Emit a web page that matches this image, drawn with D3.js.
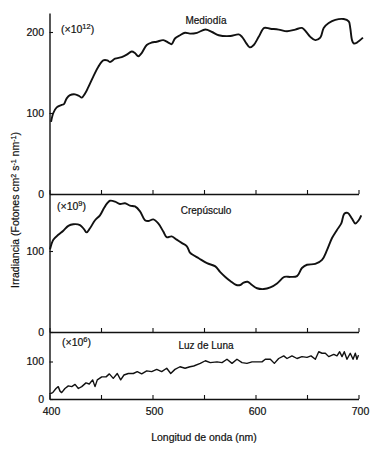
<!DOCTYPE html>
<html>
<head>
<meta charset="utf-8">
<script src="https://cdn.jsdelivr.net/npm/d3@7"></script>
<style>
  html, body { margin: 0; padding: 0; background: #fff; }
  svg { display: block; }
  text { font-family: "Liberation Sans", Arial, Helvetica, sans-serif; fill: #111; stroke: #111; stroke-width: 0.2px; }
</style>
</head>
<body>
<svg id="chart" width="377" height="450"></svg>
<script>
// ---- Data ----
const xTicks = [400, 450, 500, 550, 600, 650, 700];
const xTickLabels = [400, 500, 600, 700];

const middayNm  = [401.5,403.7,407,411.8,414,416.7,419.9,424.8,428.9,431.3,434.5,437.7,442.5,447.4,452.2,456.1,458.7,463.6,470.1,475,479.8,483,486.2,489.5,494.4,499.2,504.1,510.5,515.3,518.6,521.8,526.7,531.6,536.4,543.2,551.3,557.8,564.3,575.5,583.7,586.9,591.1,594.4,598.3,603.1,608.5,614.4,622.5,630.6,638.6,645.1,649.3,653.2,658.1,662.9,666.2,671.1,677.5,685.6,690.5,692,693.7,695.3,698.5,704.3];
const middayVal = [89,100,107,110,111,118,122,123,121,119,124,132,145,157,165,165,163,167,169,172,176,174,170,174,184,187,188,190,187,185,192,196,199,198,199,203,200,196,195,197,194,186,181,184,194,205,204,203,201,203,205,200,194,190,193,205,211,215,216,213,205,190,186,187,193];

const duskNm  = [400.5,403.7,408.5,413.4,418.3,423.1,429.6,433.5,436.1,439.3,444.2,449,452.9,456.1,458.7,463.6,468.4,473.3,478.2,483,487.9,492.7,495.9,500.8,505.6,510.5,513.8,518.6,523.5,528.3,533.2,536.4,538.3,544.9,552.9,561,565.8,570.7,575.5,581.4,585.2,588.5,592.4,596.6,601.5,608,614.4,620.9,628,633.8,640.3,645.1,650,658,664.6,669.4,674.3,679.1,683.3,686.2,689.5,693.7,696.9,700.2,702.7];
const duskVal = [102,114,120,125,131,133,132,127,123,128,138,144,153,159,162,161,158,159,156,155,149,138,137,139,134,124,117,118,114,110,106,98,96,91,85,81,74,68,63,58,58,61,62,58,54,53,55,60,68,68,69,79,83,84,89,101,116,126,134,146,147,140,134,138,144];

const moonNm  = [399.8,403.1,406.3,408.5,410.2,411.8,415,418.3,421.6,424.8,428,431.3,435.4,438.6,441.9,444.2,446.4,450.7,454.9,458.1,461.9,465.8,469.1,472.3,476.5,481.4,485.2,489.5,494.4,499.2,504.1,508.9,513.8,517.7,521.8,526.7,531.6,536.4,540,546.4,551.3,556.1,562.6,567.5,572.3,577.2,582,586.9,591.7,596.6,601.5,606.3,609.5,614.4,618.3,622.5,627.4,630.6,635.4,640.3,645.1,650,653.9,658.1,661.4,664.6,667.8,671.1,676,679.1,681.7,684,686.2,688.8,692,694.7,696.9,698.5,700];
const moonVal = [13,17,28,33,21,17,28,35,33,39,28,33,43,40,51,33,51,59,59,67,55,68,51,64,68,68,73,67,75,73,79,73,82,68,79,86,82,86,88,95,102,97,99,97,106,95,106,97,95,99,99,99,106,106,95,108,115,108,115,108,113,111,115,106,126,122,122,113,119,115,126,113,126,106,122,106,122,106,117];

// ---- Layout ----
const svg = d3.select("#chart");
const x = d3.scaleLinear().domain([400, 700]).range([49.5, 358.5]);

const panels = [
  { name: "Mediodía",    exp: "12", nm: middayNm, val: middayVal, base: 194, top: 13,  perUnit: 0.81,  yTicks: [0, 100, 200], curve: d3.curveCatmullRom, labelX: 61, labelY: 33, nameY: 24 },
  { name: "Crepúsculo",  exp: "9",  nm: duskNm,   val: duskVal,   base: 332, top: 194, perUnit: 0.81,  yTicks: [0, 100],      curve: d3.curveCatmullRom, labelX: 57, labelY: 210, nameY: 214 },
  { name: "Luz de Luna", exp: "6",  nm: moonNm,   val: moonVal,   base: 399, top: 332, perUnit: 0.375, yTicks: [0, 100],      curve: d3.curveLinear,     labelX: 62, labelY: 346, nameY: 349 }
];

panels.forEach((p, i) => {
  const maxV = (p.base - p.top) / p.perUnit;
  const y = d3.scaleLinear().domain([0, maxV]).range([p.base, p.top]);
  const g = svg.append("g");

  // x axis (ticks pointing up)
  const xa = d3.axisBottom(x).tickValues(xTicks).tickSizeInner(-4).tickSizeOuter(0).tickPadding(9)
    .tickFormat(d => (i === 2 && xTickLabels.includes(d)) ? d : "");
  const gx = g.append("g").attr("transform", `translate(0,${p.base})`).call(xa);
  gx.select(".domain").attr("stroke", "#111").attr("stroke-width", 1.4);
  gx.selectAll(".tick line").attr("stroke", "#111").attr("stroke-width", 1.1);
  gx.selectAll(".tick text").attr("font-size", 10.5).attr("fill", "#111")
    .attr("font-family", '"Liberation Sans", Arial, sans-serif').attr("dx", 1.5);

  // y axis (ticks pointing right)
  const ya = d3.axisLeft(y).tickValues(p.yTicks).tickSizeInner(-3.5).tickSizeOuter(0).tickPadding(5.5);
  const gy = g.append("g").attr("transform", `translate(${x(400)},0)`).call(ya);
  gy.select(".domain").attr("stroke", "#111").attr("stroke-width", 1.4);
  gy.selectAll(".tick line").attr("stroke", "#111").attr("stroke-width", 1.1);
  gy.selectAll(".tick text").attr("font-size", 10.5).attr("fill", "#111")
    .attr("font-family", '"Liberation Sans", Arial, sans-serif');

  // curve
  const pts = p.nm.map((n, k) => [n, p.val[k]]);
  const line = d3.line().x(d => x(d[0])).y(d => y(d[1])).curve(p.curve);
  g.append("path").datum(pts).attr("d", line)
    .attr("fill", "none").attr("stroke", "#111")
    .attr("stroke-width", i === 2 ? 1.4 : 1.9).attr("stroke-linejoin", "round");

  // multiplier label
  const t = g.append("text").attr("x", p.labelX).attr("y", p.labelY).attr("font-size", 10.5);
  t.append("tspan").text("(×10");
  t.append("tspan").attr("dy", -4).attr("font-size", 7.5).text(p.exp);
  t.append("tspan").attr("dy", 4).text(")");

  // panel name
  g.append("text").attr("x", 206).attr("y", p.nameY).attr("text-anchor", "middle")
    .attr("font-size", 10).text(p.name);
});

// axis titles
svg.append("text").attr("x", 204).attr("y", 441).attr("text-anchor", "middle")
  .attr("font-size", 10.5).text("Longitud de onda (nm)");

const yt = svg.append("text").attr("transform", "translate(19,210) rotate(-90)")
  .attr("text-anchor", "middle").attr("font-size", 10.5);
yt.append("tspan").text("Irradiancia (Fotones cm");
yt.append("tspan").attr("dy", -3.5).attr("font-size", 7).text("2");
yt.append("tspan").attr("dy", 3.5).text(" s");
yt.append("tspan").attr("dy", -3.5).attr("font-size", 7).text("-1");
yt.append("tspan").attr("dy", 3.5).text(" nm");
yt.append("tspan").attr("dy", -3.5).attr("font-size", 7).text("-1");
yt.append("tspan").attr("dy", 3.5).text(")");
</script>
</body>
</html>
